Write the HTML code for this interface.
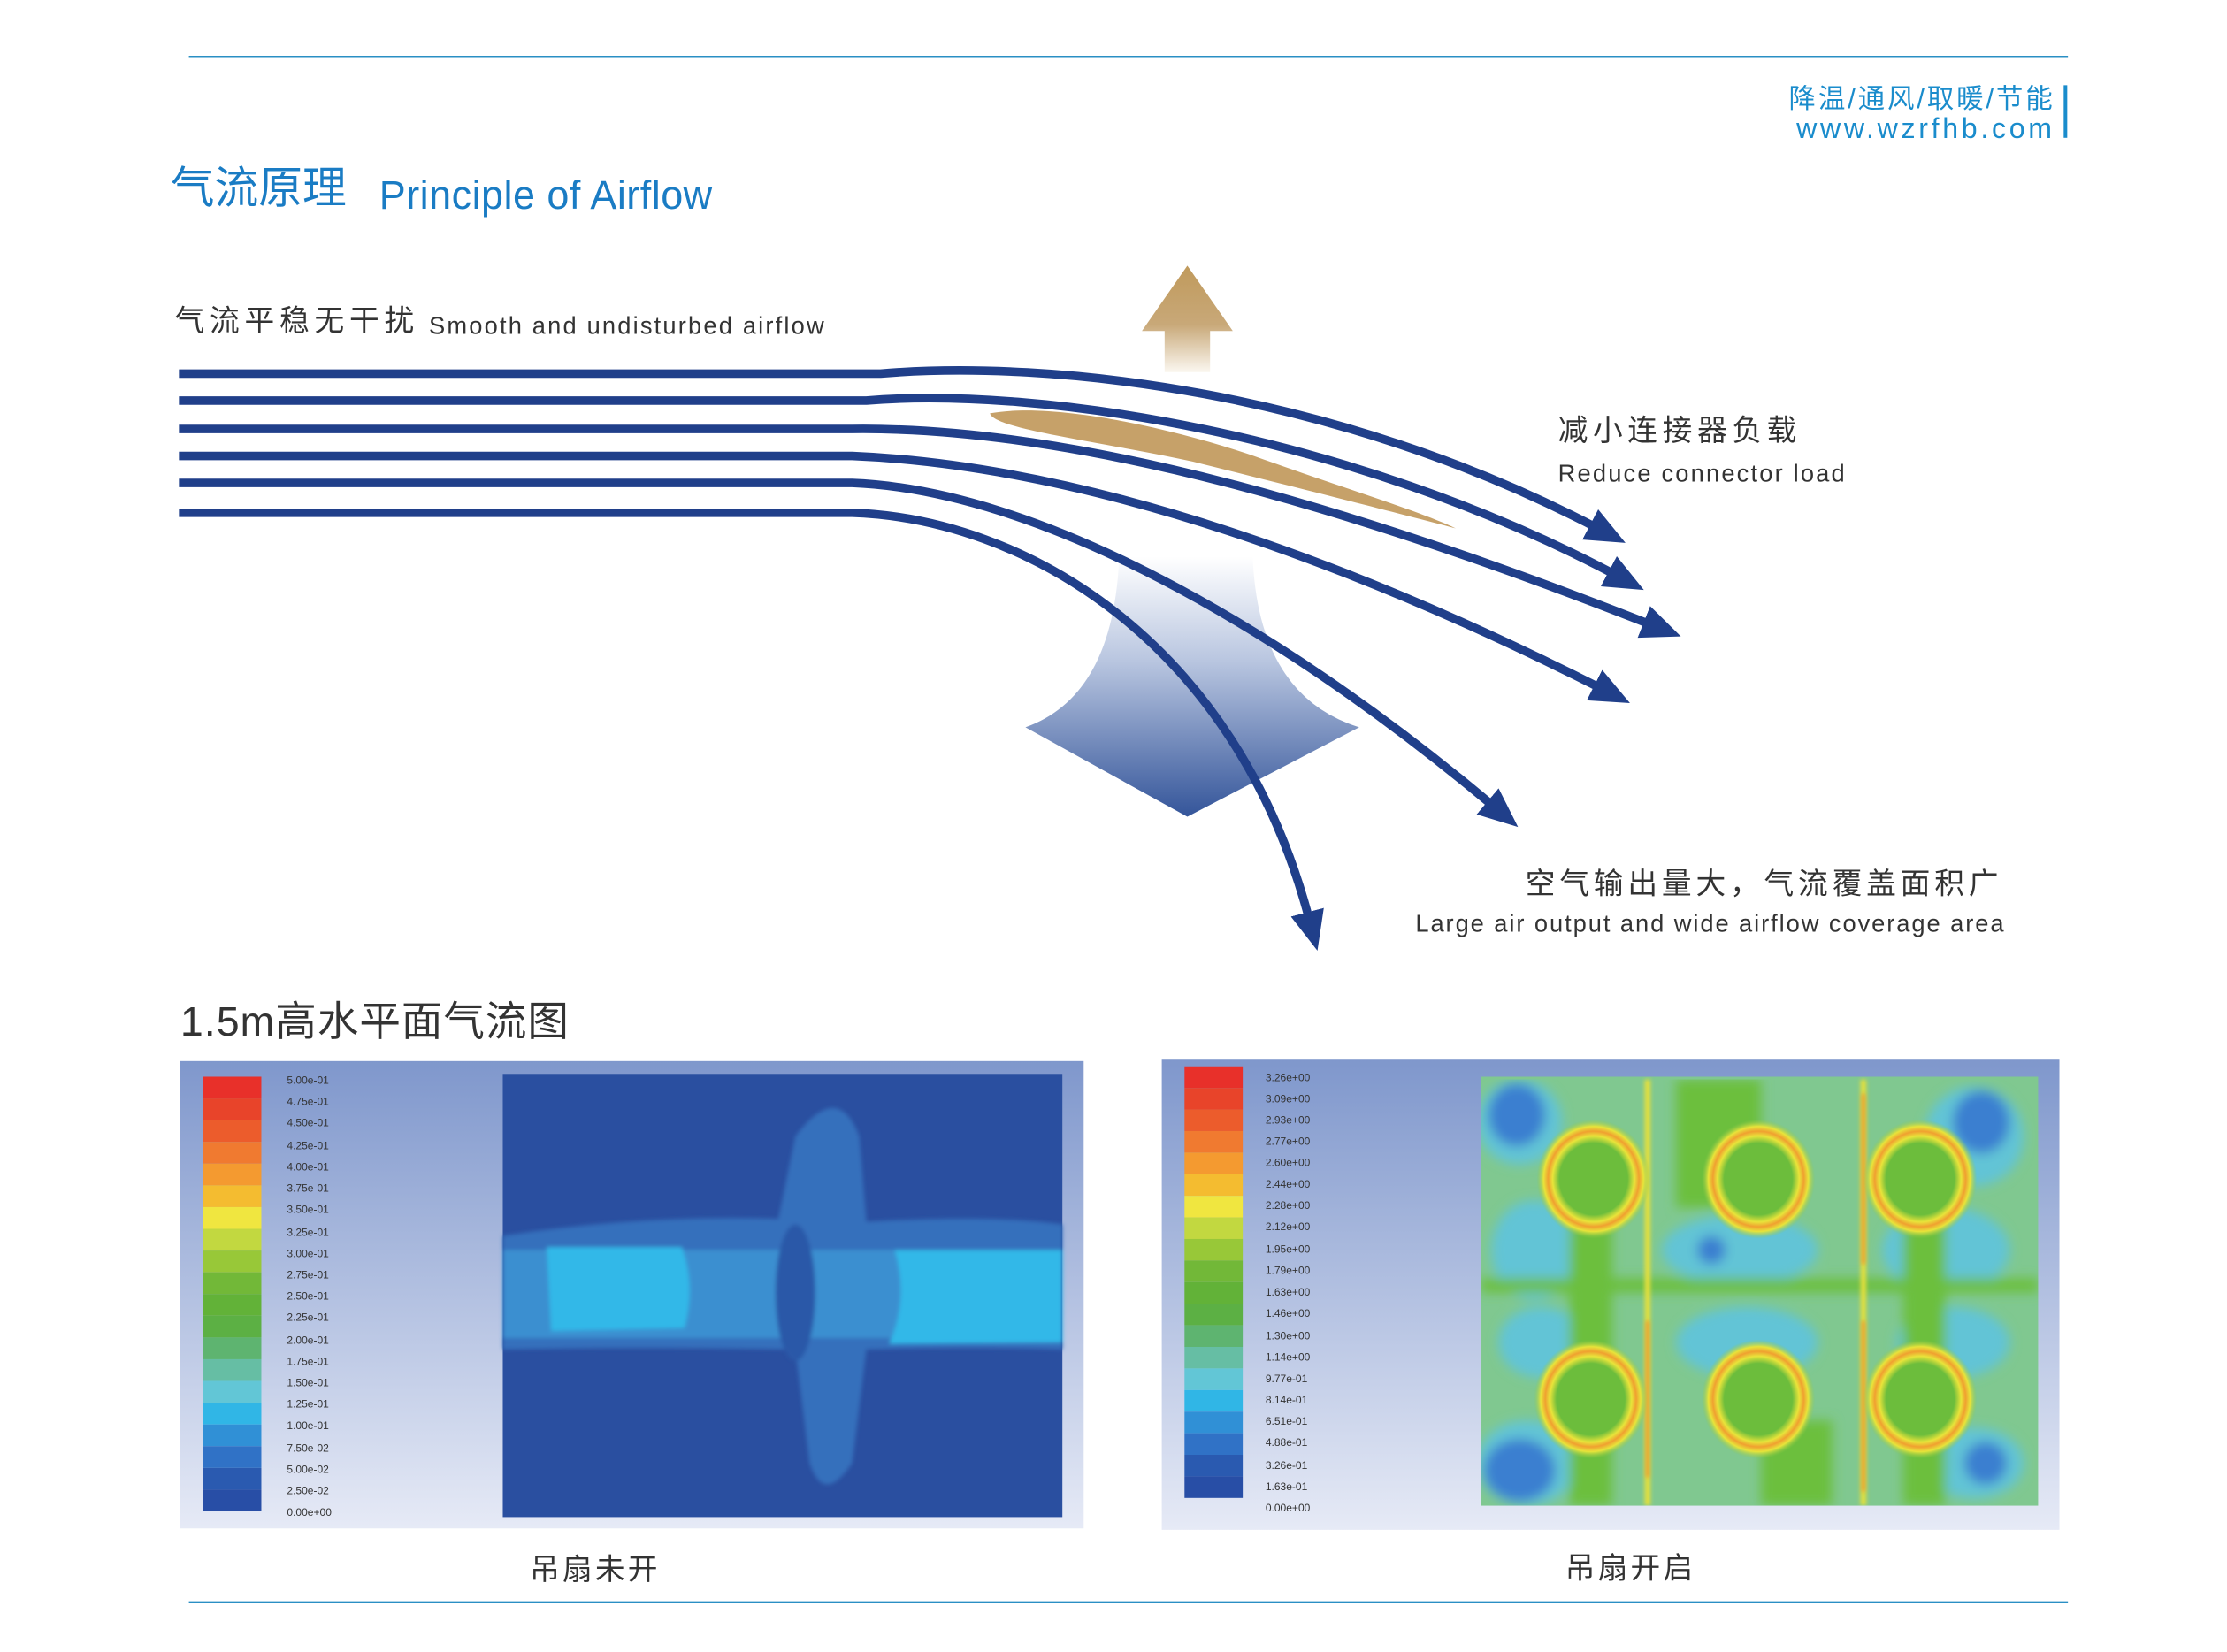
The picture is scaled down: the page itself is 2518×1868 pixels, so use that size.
<!DOCTYPE html>
<html><head><meta charset="utf-8"><style>
html,body{margin:0;padding:0;background:#fff;}
svg{display:block;}
text{font-family:"Liberation Sans","Noto Sans CJK SC",sans-serif;}
</style></head><body>
<svg width="2518" height="1868" viewBox="0 0 1568 1163" preserveAspectRatio="none" xmlns="http://www.w3.org/2000/svg">
<defs>
<linearGradient id="tan" x1="0" y1="0" x2="0" y2="1">
<stop offset="0" stop-color="#c09a5c"/><stop offset="0.55" stop-color="#c8a878"/><stop offset="1" stop-color="#fbf7f0"/></linearGradient>
<linearGradient id="blu" x1="0" y1="0" x2="0" y2="1">
<stop offset="0" stop-color="#ffffff"/><stop offset="0.4" stop-color="#b9c6e0"/><stop offset="1" stop-color="#34559a"/></linearGradient>
<linearGradient id="pbg" x1="0" y1="0" x2="0" y2="1">
<stop offset="0" stop-color="#7f97cc"/><stop offset="1" stop-color="#e6eaf6"/></linearGradient>
<marker id="ah" markerUnits="userSpaceOnUse" markerWidth="34" markerHeight="30" refX="6" refY="12" orient="auto">
<path d="M0,0 L28,12 L0,24 Z" fill="#203f8a"/></marker>
<radialGradient id="ring" cx="0.5" cy="0.5" r="0.5">
<stop offset="0.6" stop-color="#6cbd3c"/><stop offset="0.72" stop-color="#e8e43a"/><stop offset="0.8" stop-color="#f0a030"/><stop offset="0.88" stop-color="#e8e43a"/><stop offset="1" stop-color="#8cc84a" stop-opacity="0"/></radialGradient>
<filter id="bl" x="0" y="0" width="1" height="1"><feGaussianBlur stdDeviation="4"/></filter>
<filter id="bl2"><feGaussianBlur stdDeviation="1.5"/></filter>
<clipPath id="cpR"><rect x="1043" y="758" width="392" height="302"/></clipPath>
</defs>
<rect width="1568" height="1163" fill="#fff"/>
<line x1="133" y1="40" x2="1456" y2="40" stroke="#2a8fc4" stroke-width="1.5"/>
<line x1="133" y1="1128" x2="1456" y2="1128" stroke="#2a8fc4" stroke-width="1.5"/>
<text x="1447" y="76" text-anchor="end" font-size="19" fill="#1a8ccc" letter-spacing="1.8">降温/通风/取暖/节能</text>
<text x="1447" y="97" text-anchor="end" font-size="20" fill="#1a8ccc" letter-spacing="2.3">www.wzrfhb.com</text>
<rect x="1453" y="60" width="2.5" height="37" fill="#1a8ccc"/>
<text x="120" y="143" font-size="31" fill="#1a7cc4">气流原理</text>
<text x="267" y="147" font-size="28" fill="#1a7cc4" letter-spacing="0.3">Principle of Airflow</text>
<text x="123" y="233" font-size="21" fill="#333" letter-spacing="3.6">气流平稳无干扰</text>
<text x="302" y="235" font-size="17" fill="#333" letter-spacing="1.35">Smooth and undisturbed airflow</text>
<path d="M836,187 L868,233 L852,233 L852,262 L820,262 L820,233 L804,233 Z" fill="url(#tan)"/>
<path d="M788,392 L882,392 Q886,490 957,512 L836,575 L722,512 Q784,490 788,392 Z" fill="url(#blu)"/>
<path d="M697,291 C740,283 820,300 880,320 C950,345 1000,360 1025,372 C980,360 900,340 840,325 C770,310 700,302 697,291 Z" fill="#c6a169"/>
<g fill="none" stroke="#203f8a" stroke-width="6" marker-end="url(#ah)">
<path d="M126,263 L620,263 C740,253 940,275 1125,372"/>
<path d="M126,282 L610,282 C730,272 950,305 1138,405"/>
<path d="M126,302 L600,302 C760,300 960,360 1163,440"/>
<path d="M126,321 L600,321 C770,328 960,400 1128,485"/>
<path d="M126,340 L600,340 C730,345 900,440 1052,568"/>
<path d="M126,361 L600,361 C720,365 870,450 922,648"/>
</g>
<text x="1097" y="310" font-size="21" fill="#333" letter-spacing="3.5">减小连接器负载</text>
<text x="1097" y="339" font-size="17" fill="#333" letter-spacing="1.35">Reduce connector load</text>
<text x="1410" y="629" text-anchor="end" font-size="21" fill="#333" letter-spacing="3">空气输出量大，气流覆盖面积广</text>
<text x="1412" y="656" text-anchor="end" font-size="17" fill="#333" letter-spacing="1.2">Large air output and wide airflow coverage area</text>
<text x="127" y="729" font-size="29" fill="#333" letter-spacing="0.6">1.5m高水平面气流图</text>
<!-- left panel -->
<rect x="127" y="747" width="636" height="329" fill="url(#pbg)"/>
<g id="cbL">
<rect x="143" y="758" width="41" height="15.3" fill="#e8302a"/><rect x="143" y="773.3" width="41" height="15.3" fill="#e8442a"/><rect x="143" y="788.6" width="41" height="15.3" fill="#ec5c2c"/><rect x="143" y="803.9" width="41" height="15.3" fill="#f07a30"/><rect x="143" y="819.2" width="41" height="15.3" fill="#f49a30"/><rect x="143" y="834.5" width="41" height="15.3" fill="#f4bc30"/><rect x="143" y="849.8" width="41" height="15.3" fill="#f0e640"/><rect x="143" y="865.1" width="41" height="15.3" fill="#c2d840"/><rect x="143" y="880.4" width="41" height="15.3" fill="#98c838"/><rect x="143" y="895.7" width="41" height="15.3" fill="#72b838"/><rect x="143" y="911" width="41" height="15.3" fill="#62b238"/><rect x="143" y="926.3" width="41" height="15.3" fill="#5cb044"/><rect x="143" y="941.6" width="41" height="15.3" fill="#5eb470"/><rect x="143" y="956.9" width="41" height="15.3" fill="#66bea4"/><rect x="143" y="972.2" width="41" height="15.3" fill="#62c6d6"/><rect x="143" y="987.5" width="41" height="15.3" fill="#30b6e6"/><rect x="143" y="1002.8" width="41" height="15.3" fill="#3090d6"/><rect x="143" y="1018.1" width="41" height="15.3" fill="#3072c6"/><rect x="143" y="1033.4" width="41" height="15.3" fill="#2a5ab0"/><rect x="143" y="1048.7" width="41" height="15.3" fill="#284ea6"/>
</g>
<g font-size="7.5" fill="#333">
<text x="202" y="763">5.00e-01</text><text x="202" y="778">4.75e-01</text><text x="202" y="793">4.50e-01</text><text x="202" y="809">4.25e-01</text><text x="202" y="824">4.00e-01</text><text x="202" y="839">3.75e-01</text><text x="202" y="854">3.50e-01</text><text x="202" y="870">3.25e-01</text><text x="202" y="885">3.00e-01</text><text x="202" y="900">2.75e-01</text><text x="202" y="915">2.50e-01</text><text x="202" y="930">2.25e-01</text><text x="202" y="946">2.00e-01</text><text x="202" y="961">1.75e-01</text><text x="202" y="976">1.50e-01</text><text x="202" y="991">1.25e-01</text><text x="202" y="1006">1.00e-01</text><text x="202" y="1022">7.50e-02</text><text x="202" y="1037">5.00e-02</text><text x="202" y="1052">2.50e-02</text><text x="202" y="1067">0.00e+00</text>
</g>
<rect x="354" y="756" width="394" height="312" fill="#2a4fa0"/>
<g filter="url(#bl2)">
<path d="M354,870 Q450,855 548,858 L560,800 Q590,760 605,800 L610,860 Q700,855 748,862 L748,950 Q680,948 610,950 L600,1030 Q580,1060 570,1030 L560,950 Q450,948 354,950 Z" fill="#3570bc"/>
<rect x="354" y="880" width="394" height="62" fill="#3a8fd0"/>
<path d="M385,878 L480,878 Q490,905 482,935 L388,937 Z" fill="#30b8e8"/>
<path d="M630,880 L748,880 L748,945 L626,946 Q640,915 630,880 Z" fill="#30b8e8"/>
<ellipse cx="560" cy="910" rx="14" ry="48" fill="#2a58a8"/>
</g>
<!-- right panel -->
<rect x="818" y="746" width="632" height="331" fill="url(#pbg)"/>
<g transform="translate(691,-2) scale(1,0.993)">
<use href="#cbL"/>
</g>
<g font-size="7.5" fill="#333">
<text x="891" y="761">3.26e+00</text><text x="891" y="776">3.09e+00</text><text x="891" y="791">2.93e+00</text><text x="891" y="806">2.77e+00</text><text x="891" y="821">2.60e+00</text><text x="891" y="836">2.44e+00</text><text x="891" y="851">2.28e+00</text><text x="891" y="866">2.12e+00</text><text x="891" y="882">1.95e+00</text><text x="891" y="897">1.79e+00</text><text x="891" y="912">1.63e+00</text><text x="891" y="927">1.46e+00</text><text x="891" y="943">1.30e+00</text><text x="891" y="958">1.14e+00</text><text x="891" y="973">9.77e-01</text><text x="891" y="988">8.14e-01</text><text x="891" y="1003">6.51e-01</text><text x="891" y="1018">4.88e-01</text><text x="891" y="1034">3.26e-01</text><text x="891" y="1049">1.63e-01</text><text x="891" y="1064">0.00e+00</text>
</g>
<rect x="1043" y="758" width="392" height="302" fill="#80c890"/>
<g clip-path="url(#cpR)">
<g filter="url(#bl)">
<g fill="#62c4d6">
<ellipse cx="1080" cy="880" rx="30" ry="35"/><ellipse cx="1225" cy="880" rx="55" ry="25"/><ellipse cx="1370" cy="880" rx="45" ry="30"/>
<ellipse cx="1085" cy="945" rx="30" ry="25"/><ellipse cx="1230" cy="945" rx="50" ry="25"/><ellipse cx="1375" cy="945" rx="40" ry="25"/>
<ellipse cx="1070" cy="790" rx="30" ry="30"/><ellipse cx="1390" cy="800" rx="35" ry="35"/><ellipse cx="1075" cy="1030" rx="35" ry="30"/><ellipse cx="1265" cy="1030" rx="25" ry="20"/><ellipse cx="1390" cy="1030" rx="35" ry="25"/>
</g>
<g fill="#3a7fd0">
<ellipse cx="1068" cy="785" rx="20" ry="22"/><ellipse cx="1395" cy="790" rx="20" ry="22"/><ellipse cx="1070" cy="1035" rx="25" ry="22"/><ellipse cx="1398" cy="1030" rx="15" ry="15"/><ellipse cx="1205" cy="880" rx="10" ry="10"/>
</g>
<g fill="#6cbf3c">
<rect x="1180" y="760" width="60" height="90"/><rect x="1240" y="1000" width="50" height="60"/><rect x="1043" y="900" width="392" height="10"/><rect x="1105" y="860" width="30" height="200"/><rect x="1340" y="860" width="30" height="200"/>
</g>
</g>
<g stroke="#e6e03a" stroke-width="4" fill="none" filter="url(#bl2)">
<line x1="1160" y1="760" x2="1160" y2="1060"/><line x1="1312" y1="760" x2="1312" y2="1060"/>
</g>
<g stroke="#f08a2a" stroke-width="2" fill="none" filter="url(#bl2)">
<line x1="1160" y1="930" x2="1160" y2="1040"/><line x1="1312" y1="770" x2="1312" y2="890"/><line x1="1312" y1="930" x2="1312" y2="1050"/>
</g>
<g>
<ellipse cx="1122" cy="830" rx="40" ry="42" fill="url(#ring)"/><ellipse cx="1238" cy="830" rx="40" ry="42" fill="url(#ring)"/><ellipse cx="1352" cy="830" rx="40" ry="42" fill="url(#ring)"/>
<ellipse cx="1120" cy="985" rx="40" ry="42" fill="url(#ring)"/><ellipse cx="1238" cy="985" rx="40" ry="42" fill="url(#ring)"/><ellipse cx="1352" cy="985" rx="40" ry="42" fill="url(#ring)"/>
</g>
</g>
<text x="419" y="1112" text-anchor="middle" font-size="21" fill="#333" letter-spacing="2">吊扇未开</text>
<text x="1148" y="1111" text-anchor="middle" font-size="21" fill="#333" letter-spacing="2">吊扇开启</text>
</svg>
</body></html>
